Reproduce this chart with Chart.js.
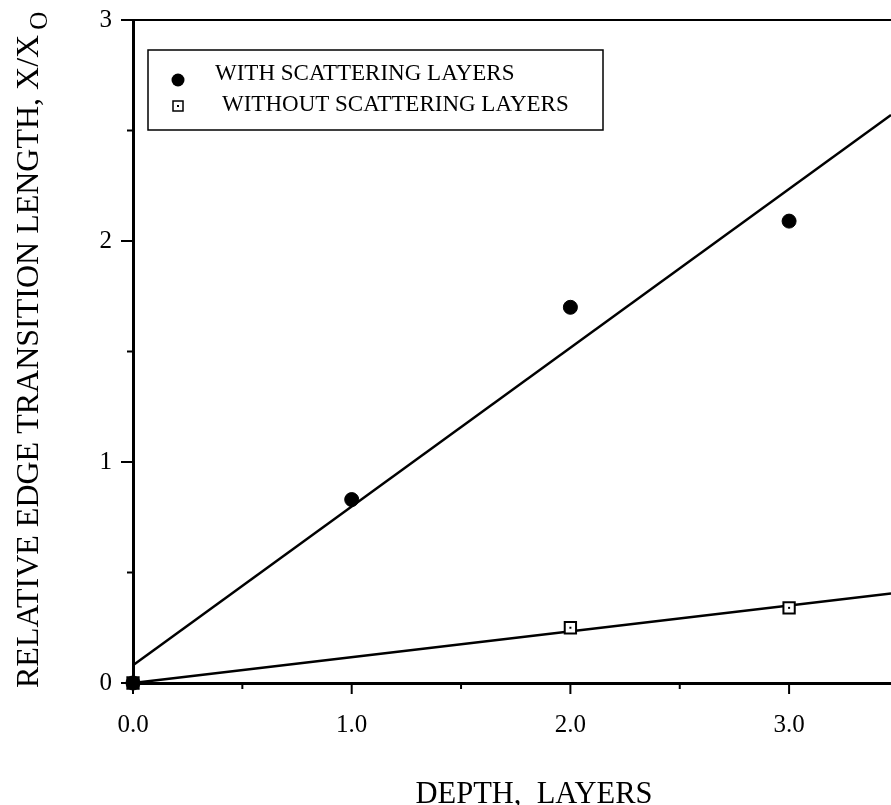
<!DOCTYPE html>
<html>
<head>
<meta charset="utf-8">
<script src="https://cdn.jsdelivr.net/npm/chart.js@4.4.1/dist/chart.umd.min.js"></script>
<style>
    html, body { margin: 0; padding: 0; background: #fff; overflow: hidden; }
    #grafico { display: block; }
</style>
</head>
<body>
<canvas id="grafico" width="891" height="805"></canvas>
<script>
// Datos
const seriesNames = ["WITH SCATTERING LAYERS", "WITHOUT SCATTERING LAYERS"];
const withDepth = [0, 1, 2, 3];
const withLength = [0, 0.83, 1.70, 2.09];
const withoutDepth = [0, 2, 3];
const withoutLength = [0, 0.25, 0.34];
const fitDepth = [0, 3.466];
const withFitLength = [0.08, 2.57];
const withoutFitLength = [0, 0.405];
const xTitle = "DEPTH,  LAYERS";
const yTitle = "RELATIVE EDGE TRANSITION LENGTH, X/X";
const ySub = "O";
const xMax = 3.466;   // borde derecho de la figura recortada
const yMax = 3;

const FONT = "'Liberation Serif', 'Times New Roman', serif";
Chart.defaults.font.family = FONT;
Chart.defaults.color = "#000";

const toPoints = (xs, ys) => xs.map((x, i) => ({ x, y: ys[i] }));

// Ejes, leyenda y titulos dibujados a mano
const decorPlugin = {
    id: "decor",
    afterDraw(chart) {
        const ctx = chart.ctx;
        const { left, right, top, bottom } = chart.chartArea;
        const xs = chart.scales.x, ys = chart.scales.y;
        ctx.save();
        ctx.strokeStyle = "#000";
        ctx.fillStyle = "#000";

        // marco superior y prolongacion del eje x hasta el borde
        ctx.lineWidth = 2;
        ctx.beginPath();
        ctx.moveTo(left, top);
        ctx.lineTo(chart.width, top);
        ctx.stroke();
        ctx.lineWidth = 3;
        ctx.beginPath();
        ctx.moveTo(right - 2, bottom + 0.5);
        ctx.lineTo(chart.width, bottom + 0.5);
        ctx.stroke();

        // marcas del eje x
        ctx.lineWidth = 2;
        xs.ticks.forEach(t => {
            const px = xs.getPixelForValue(t.value);
            if (px > chart.width - 4) return;
            const len = Number.isInteger(t.value) ? 11 : 6;
            ctx.beginPath();
            ctx.moveTo(px, bottom);
            ctx.lineTo(px, bottom + len);
            ctx.stroke();
        });
        // marcas del eje y
        ys.ticks.forEach(t => {
            const py = ys.getPixelForValue(t.value);
            const len = Number.isInteger(t.value) ? 12 : 6;
            ctx.beginPath();
            ctx.moveTo(left - len, py);
            ctx.lineTo(left, py);
            ctx.stroke();
        });

        // punto central de los cuadrados
        chart.getDatasetMeta(1).data.forEach(p => {
            ctx.fillRect(p.x - 1, p.y - 1, 2, 2);
        });

        // leyenda
        ctx.lineWidth = 1.5;
        ctx.strokeRect(148, 50, 455, 80);
        ctx.beginPath();
        ctx.arc(178, 80, 6.5, 0, Math.PI * 2);
        ctx.fill();
        ctx.strokeRect(173, 101, 10, 10);
        ctx.fillRect(177, 105, 2, 2);
        ctx.font = "23px " + FONT;
        ctx.textAlign = "left";
        ctx.textBaseline = "alphabetic";
        ctx.fillText(seriesNames[0], 215, 80);
        ctx.fillText(seriesNames[1], 222, 111);

        // titulo eje x
        ctx.font = "30.5px " + FONT;
        ctx.textAlign = "center";
        ctx.fillText(xTitle, 534, 803);

        // titulo eje y (rotado)
        ctx.translate(38, 688);
        ctx.rotate(-Math.PI / 2);
        ctx.textAlign = "left";
        ctx.font = "32px " + FONT;
        ctx.fillText(yTitle, 0, 0);
        const w = ctx.measureText(yTitle).width;
        ctx.font = "25px " + FONT;
        ctx.fillText(ySub, w + 5, 9);
        ctx.restore();
    }
};

const ctx = document.getElementById("grafico").getContext("2d");
const chart = new Chart(ctx, {
    type: "scatter",
    data: {
        datasets: [
            {
                label: seriesNames[0],
                data: toPoints(withDepth, withLength),
                pointStyle: "circle",
                pointRadius: 7,
                pointBackgroundColor: "#000",
                pointBorderColor: "#000",
                pointBorderWidth: 1,
                clip: false,
                order: 0
            },
            {
                label: seriesNames[1],
                data: toPoints(withoutDepth, withoutLength),
                pointStyle: "rect",
                pointRadius: 8,
                pointBackgroundColor: "#fff",
                pointBorderColor: "#000",
                pointBorderWidth: 2,
                clip: false,
                order: 1
            },
            {
                label: "fit1",
                data: toPoints(fitDepth, withFitLength),
                showLine: true,
                borderColor: "#000",
                borderWidth: 2.5,
                pointRadius: 0,
                clip: false,
                order: 2
            },
            {
                label: "fit2",
                data: toPoints(fitDepth, withoutFitLength),
                showLine: true,
                borderColor: "#000",
                borderWidth: 2.5,
                pointRadius: 0,
                clip: false,
                order: 3
            }
        ]
    },
    options: {
        responsive: false,
        animation: false,
        devicePixelRatio: 1,
        layout: { padding: { top: 20, left: 0, right: 0, bottom: 0 } },
        plugins: {
            legend: { display: false },
            tooltip: { enabled: false }
        },
        scales: {
            x: {
                type: "linear",
                bounds: "data",
                min: 0,
                max: xMax,
                afterFit: s => {
                    s.height = 122;
                    s.paddingLeft = 0;
                    s.paddingRight = 0;
                },
                grid: { display: false, drawTicks: true, tickLength: 10 },
                border: { display: true, color: "#000", width: 3 },
                ticks: {
                    stepSize: 0.5,
                    includeBounds: false,
                    maxRotation: 0,
                    autoSkip: false,
                    padding: 17,
                    font: { size: 25 },
                    callback: v => Number.isInteger(v) ? v.toFixed(1) : ""
                }
            },
            y: {
                type: "linear",
                min: 0,
                max: yMax,
                afterFit: s => {
                    s.width = 133;
                    s.paddingTop = 0;
                    s.paddingBottom = 0;
                },
                grid: { display: false, drawTicks: true, tickLength: 12 },
                border: { display: true, color: "#000", width: 3 },
                ticks: {
                    stepSize: 0.5,
                    autoSkip: false,
                    padding: 9,
                    font: { size: 25 },
                    callback: v => Number.isInteger(v) ? String(v) : ""
                }
            }
        }
    },
    plugins: [decorPlugin]
});

// Ajustar el area para que coincida con la figura (arriba 20, xMax en el borde del lienzo)
const area = chart.chartArea;
chart.options.layout.padding.top += 20 - area.top;
chart.options.scales.x.max = xMax * (area.right - area.left) / (chart.width - area.left);
chart.update();
</script>
</body>
</html>
